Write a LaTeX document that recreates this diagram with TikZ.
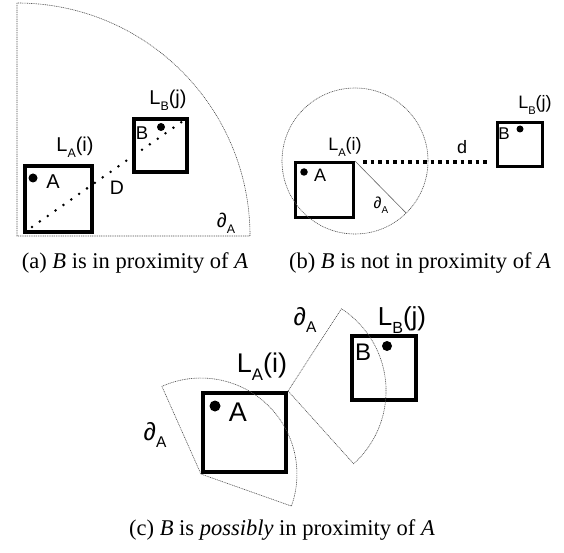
\documentclass[tikz,border=0pt]{standalone}
\usepackage{fontspec}
\usepackage{graphicx}
\setmainfont{Liberation Sans}
\newfontfamily\capfont{Liberation Serif}
\usetikzlibrary{positioning}
\newcommand{\subs}[1]{\raisebox{-0.55ex}{\scalebox{0.62}{#1}}}
\newcommand{\locl}[2]{L\subs{#1}(#2)}

\begin{document}
\begin{tikzpicture}[x=1pt,y=1pt,
    cell/.style={draw,line width=3.6pt,minimum width=#1,minimum height=#1,inner sep=0pt},
    dot/.style={circle,fill,inner sep=0pt,minimum size=#1},
    bound/.style={draw=black!70,line width=0.6pt,dash pattern=on 1pt off 0.8pt},
    dist/.style={line width=2.8pt,line cap=round,dash pattern=on 0pt off 9.6pt},
    sq/.style={line width=3.5pt,dash pattern=on 3.5pt off 4pt},
    lab/.style={inner sep=0pt,font=\fontsize{#1}{#1}\selectfont},
    subcap/.style={inner sep=0pt,font=\capfont\fontsize{22.5}{24}\selectfont}
  ]
  \useasboundingbox (0,0) rectangle (564,552);

  % (a) in proximity
  \coordinate (oa) at (17,316);
  \draw[bound] (17,549) -- (oa) -- (250,316) arc[start angle=0,end angle=90,radius=233pt];
  \node[cell=66.5pt,minimum width=67.5pt] (ca) at (58.5,353) {};
  \node[cell=53.5pt] (cb) at (160.5,406.5) {};
  \node[dot=9pt] (pa) at (33,374) {};
  \node[dot=8pt] (pb) at (161,425) {};
  \node[lab=20] at (53,370) {A};
  \node[lab=18.5] at (142,419) {B};
  \node[lab=20] at (75,405) {\locl{A}{i}};
  \node[lab=20] at (168,452) {\locl{B}{j}};
  \coordinate (da) at (32,325);
  \coordinate (db) at (183,431);
  \draw[dist] (da) -- (db);
  \node[lab=19.5] at (117,364) {D};
  \node[lab=20] at (226,329) {∂\subs{A}};
  \node[subcap] at (135,289) {(a) \textit{B} is in proximity of \textit{A}};

  % (b) not in proximity
  \node[cell=55pt,minimum width=58pt,line width=3pt] (ca2) at (324.5,362) {};
  \node[cell=44pt,minimum width=45pt,line width=3pt] (cb2) at (520,407.5) {};
  \draw[bound] (ca2.north east) circle[radius=73pt];
  \draw[black!60,line width=0.6pt] (ca2.north east) -- ++(-45.5:73pt);
  \node[dot=7.5pt] (pa2) at (304,380) {};
  \node[dot=7pt] (pb2) at (520,423) {};
  \node[lab=18] at (320,377) {A};
  \node[lab=17] at (504,418) {B};
  \node[lab=18] at (345,405) {\locl{A}{i}};
  \node[lab=18] at (535,447) {\locl{B}{j}};
  \coordinate (sa) at (363,390);
  \coordinate (sb) at (490,390);
  \draw[sq] (sa) -- (sb);
  \node[lab=18] at (462,405) {d};
  \node[lab=16] at (381,347) {∂\subs{A}};
  \node[subcap] at (420,289) {(b) \textit{B} is not in proximity of \textit{A}};

  % (c) possibly in proximity
  \node[cell=79.5pt,minimum width=83.5pt] (ca3) at (244.5,119.5) {};
  \node[cell=64.5pt] (cb3) at (384,184) {};
  \draw[bound] (ca3.north east) -- ++(57:98pt) arc[start angle=57,end angle=-48,radius=98pt] -- cycle;
  \draw[bound] (ca3.south west) -- ++(114:96pt) arc[start angle=114,end angle=-19.5,radius=96pt] -- cycle;
  \node[dot=11pt] (pa3) at (215,146) {};
  \node[dot=10pt] (pb3) at (387,206) {};
  \node[lab=27] at (238,140) {A};
  \node[lab=24] at (363,200) {B};
  \node[lab=27] at (262,185) {\locl{A}{i}};
  \node[lab=26] at (402,232) {\locl{B}{j}};
  \node[lab=25] at (305,232) {∂\subs{A}};
  \node[lab=25] at (155,117) {∂\subs{A}};
  \node[subcap] at (282,22) {(c) \textit{B} is \textit{possibly} in proximity of \textit{A}};
\end{tikzpicture}
\end{document}
